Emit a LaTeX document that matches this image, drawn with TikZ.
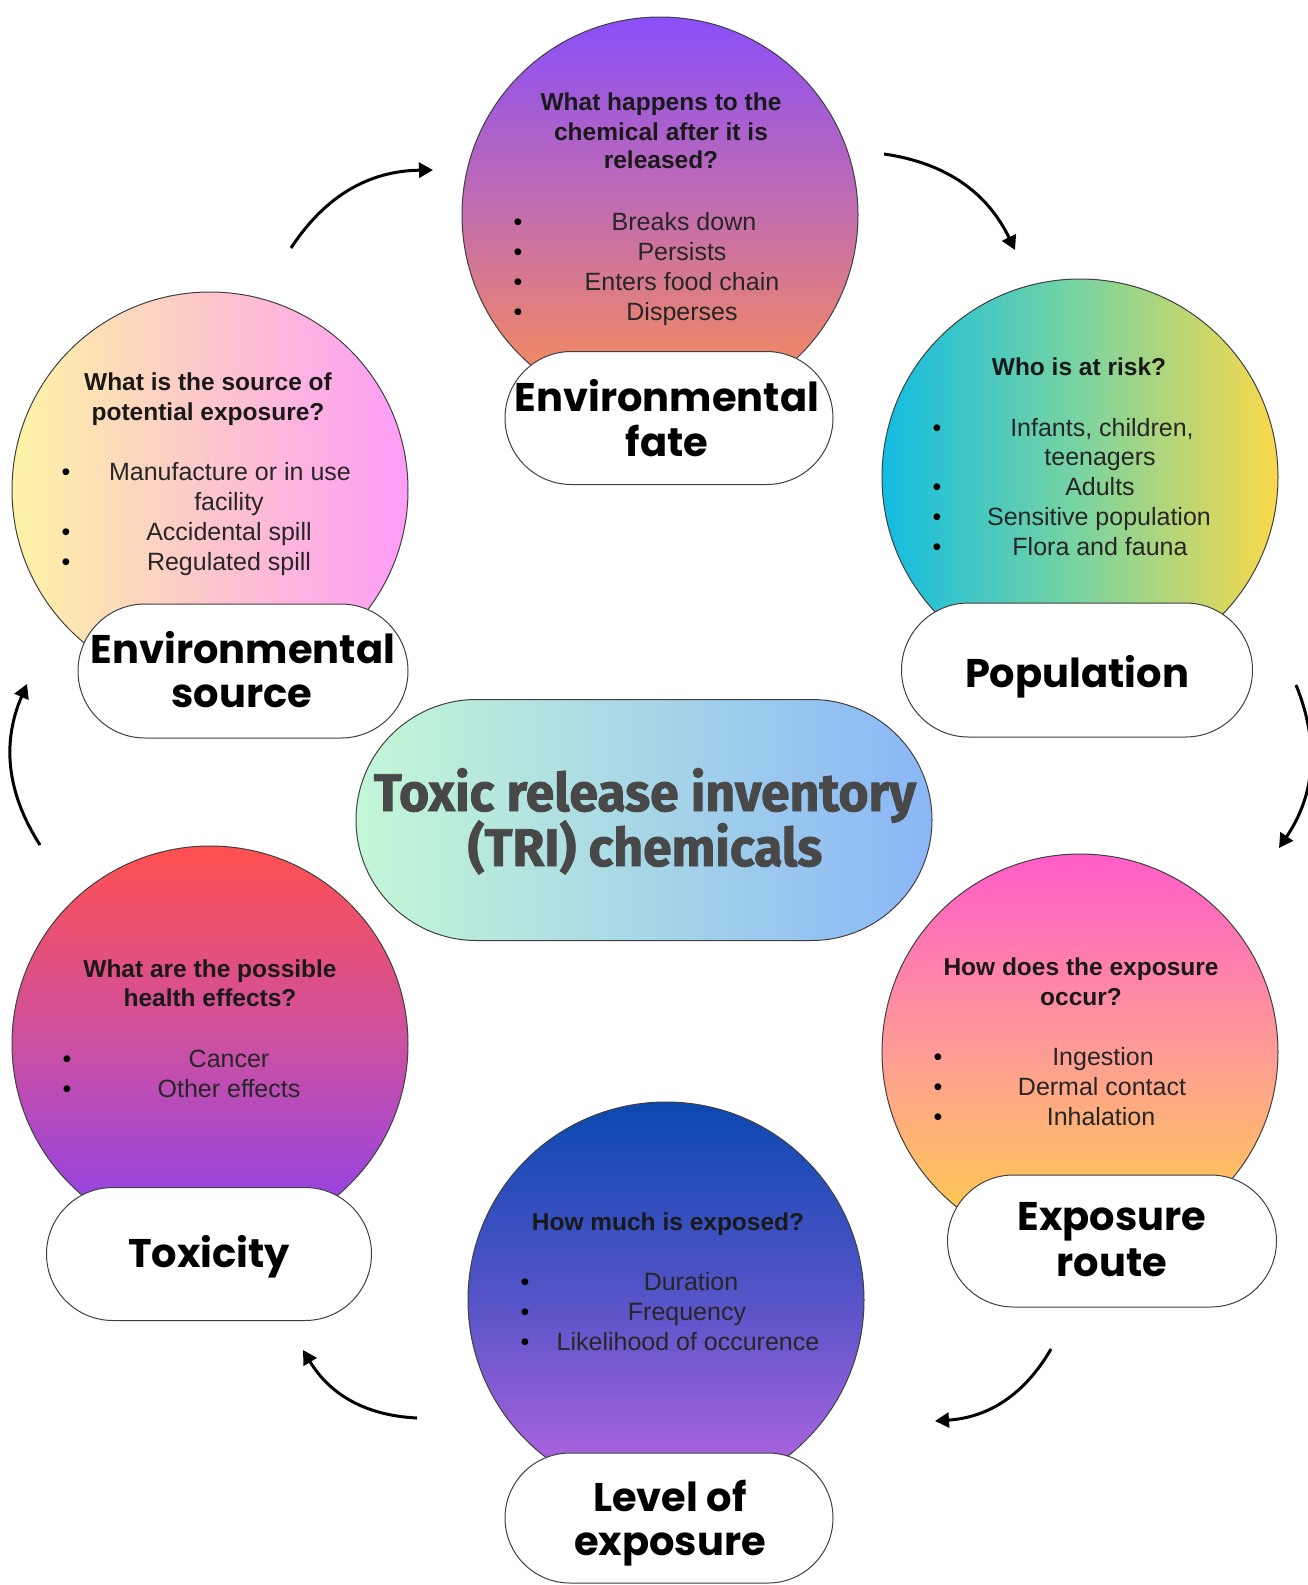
\documentclass[tikz,border=0pt]{standalone}
\usepackage{fontspec}
\setmainfont{Liberation Sans}
\newfontfamily\popfont{Poppins}
\newfontfamily\firafont{Fira Sans}[BoldFeatures={FakeBold=1.6}]
\usepackage{graphicx}
\usetikzlibrary{shapes.misc,arrows.meta}
\definecolor{fateT}{HTML}{8A4EF8}
\definecolor{fateM}{HTML}{C46EAC}
\definecolor{fateB}{HTML}{FF9050}
\definecolor{srcL}{HTML}{FDF3A5}
\definecolor{srcM}{HTML}{FCC6CC}
\definecolor{srcR}{HTML}{FF9CF8}
\definecolor{popL}{HTML}{12BCE2}
\definecolor{popM}{HTML}{7AD4A0}
\definecolor{popR}{HTML}{FAD84A}
\definecolor{rteT}{HTML}{FF5CC8}
\definecolor{rteM}{HTML}{FF9C96}
\definecolor{rteB}{HTML}{FFD244}
\definecolor{lvlT}{HTML}{0A48B0}
\definecolor{lvlM}{HTML}{5654C8}
\definecolor{lvlB}{HTML}{BC66E2}
\definecolor{toxT}{HTML}{FF5050}
\definecolor{toxM}{HTML}{CC50A2}
\definecolor{toxB}{HTML}{8840F2}
\definecolor{cenL}{HTML}{C4F7D6}
\definecolor{cenR}{HTML}{8AB6F7}
\definecolor{cenText}{HTML}{484848}
\begin{document}
\begin{tikzpicture}[x=1pt,y=-1pt,
  bubble/.style={circle, draw=black!75, line width=1pt, minimum size=396pt, inner sep=0pt},
  pill/.style={rounded rectangle, draw=black!75, line width=1pt, fill=white, inner sep=0pt},
  qtext/.style={font=\fontsize{24.5}{29}\selectfont\bfseries, anchor=base, text=black!90, inner sep=0pt},
  itext/.style={font=\fontsize{25}{30}\selectfont, anchor=base, text=black!85, inner sep=0pt},
  bul/.style={font=\fontsize{25}{30}\selectfont, anchor=base, inner sep=0pt},
  lab/.style={font=\popfont\bfseries\fontsize{40}{44}\selectfont, anchor=base, inner sep=0pt},
  ctext/.style={font=\firafont\bfseries\fontsize{53}{60}\selectfont, anchor=base, text=cenText, inner sep=0pt},
  cyc/.style={line width=3pt, -{Triangle[length=14pt,width=15pt]}, bend left=28}]
\useasboundingbox (0,0) rectangle (1308,1585);
\fill[white] (0,0) rectangle (1308,1585);

% bubbles
\node[bubble, top color=fateT, bottom color=fateB, middle color=fateM] (fate) at (660,215) {};
\node[bubble, left color=srcL, right color=srcR, middle color=srcM] (src) at (210,490) {};
\node[bubble, left color=popL, right color=popR, middle color=popM] (pop) at (1080,477) {};
\node[bubble, top color=rteT, bottom color=rteB, middle color=rteM] (rte) at (1080,1052) {};
\node[bubble, top color=lvlT, bottom color=lvlB, middle color=lvlM] (lvl) at (666,1300) {};
\node[bubble, top color=toxT, bottom color=toxB, middle color=toxM] (tox) at (210,1044) {};

% pills
\node[pill, minimum width=328pt, minimum height=133pt] (fatep) at (669,418) {};
\node[pill, minimum width=330pt, minimum height=134pt] (srcp) at (243,671) {};
\node[pill, minimum width=351pt, minimum height=134pt] (popp) at (1077,670) {};
\node[pill, minimum width=329pt, minimum height=132pt] (rtep) at (1112,1241) {};
\node[pill, minimum width=328pt, minimum height=130pt] (lvlp) at (669,1518) {};
\node[pill, minimum width=325pt, minimum height=133pt] (toxp) at (209,1254) {};
\node[pill, minimum width=576pt, minimum height=241pt, left color=cenL, right color=cenR] (cen) at (644,820) {};

% centre text
\node[ctext] (cen1) at (645,811) {\scalebox{0.975}[1]{Toxic release inventory}};
\node[ctext] (cen2) at (645,866) {\scalebox{0.975}[1]{(TRI) chemicals}};

% environmental fate
\node[qtext] (fq1) at (661,110) {What happens to the};
\node[qtext] (fq2) at (661,140) {chemical after it is};
\node[qtext] (fq3) at (661,168) {released?};
\node[bul] (fb1) at (518,230) {•};
\node[bul] (fb2) at (518,260) {•};
\node[bul] (fb3) at (518,290) {•};
\node[bul] (fb4) at (518,320) {•};
\node[itext] (fi1) at (684,230) {Breaks down};
\node[itext] (fi2) at (682,260) {Persists};
\node[itext] (fi3) at (682,290) {Enters food chain};
\node[itext] (fi4) at (682,320) {Disperses};
\node[lab] (fl1) at (667,411) {Environmental};
\node[lab] (fl2) at (667,456) {fate};

% environmental source
\node[qtext] (sq1) at (208,390) {What is the source of};
\node[qtext] (sq2) at (208,420) {potential exposure?};
\node[bul] (sb1) at (66,480) {•};
\node[bul] (sb2) at (66,540) {•};
\node[bul] (sb3) at (66,570) {•};
\node[itext] (si1) at (230,480) {Manufacture or in use};
\node[itext] (si2) at (229,510) {facility};
\node[itext] (si3) at (229,540) {Accidental spill};
\node[itext] (si4) at (229,570) {Regulated spill};
\node[lab] (sl1) at (243,663) {Environmental};
\node[lab] (sl2) at (242,707) {source};

% population
\node[qtext] (pq1) at (1079,375) {Who is at risk?};
\node[bul] (pb1) at (937,436) {•};
\node[bul] (pb2) at (937,495) {•};
\node[bul] (pb3) at (937,525) {•};
\node[bul] (pb4) at (937,555) {•};
\node[itext] (pi1) at (1102,436) {Infants, children,};
\node[itext] (pi2) at (1100,465) {teenagers};
\node[itext] (pi3) at (1100,495) {Adults};
\node[itext] (pi4) at (1099,525) {Sensitive population};
\node[itext] (pi5) at (1100,555) {Flora and fauna};
\node[lab] (pl1) at (1077,687) {Population};

% exposure route
\node[qtext] (rq1) at (1081,975) {How does the exposure};
\node[qtext] (rq2) at (1081,1005) {occur?};
\node[bul] (rb1) at (938,1065) {•};
\node[bul] (rb2) at (938,1095) {•};
\node[bul] (rb3) at (938,1125) {•};
\node[itext] (ri1) at (1103,1065) {Ingestion};
\node[itext] (ri2) at (1102,1095) {Dermal contact};
\node[itext] (ri3) at (1101,1125) {Inhalation};
\node[lab] (rl1) at (1112,1230) {Exposure};
\node[lab] (rl2) at (1112,1276) {route};

% level of exposure
\node[qtext] (lq1) at (668,1230) {How much is exposed?};
\node[bul] (lb1) at (525,1290) {•};
\node[bul] (lb2) at (525,1320) {•};
\node[bul] (lb3) at (525,1350) {•};
\node[itext] (li1) at (691,1290) {Duration};
\node[itext] (li2) at (687,1320) {Frequency};
\node[itext] (li3) at (688,1350) {Likelihood of occurence};
\node[lab] (ll1) at (670,1511) {Level of};
\node[lab] (ll2) at (670,1555) {exposure};

% toxicity
\node[qtext] (tq1) at (210,977) {What are the possible};
\node[qtext] (tq2) at (210,1006) {health effects?};
\node[bul] (tb1) at (67,1067) {•};
\node[bul] (tb2) at (67,1097) {•};
\node[itext] (ti1) at (229,1067) {Cancer};
\node[itext] (ti2) at (229,1097) {Other effects};
\node[lab] (tl1) at (209,1267) {Toxicity};

% cycle arrows
\coordinate (a1s) at (291,248);  \coordinate (a1e) at (433,170);
\coordinate (a2s) at (884,154);  \coordinate (a2e) at (1015,250);
\coordinate (a3s) at (1296,685); \coordinate (a3e) at (1279,848);
\coordinate (a4s) at (1051,1349); \coordinate (a4e) at (935,1421);
\coordinate (a5s) at (417,1418); \coordinate (a5e) at (303,1350);
\coordinate (a6s) at (40,845);   \coordinate (a6e) at (27,684);
\draw[cyc] (a1s) to (a1e);
\draw[cyc] (a2s) to (a2e);
\draw[cyc] (a3s) to (a3e);
\draw[cyc] (a4s) to (a4e);
\draw[cyc] (a5s) to (a5e);
\draw[cyc] (a6s) to (a6e);
\end{tikzpicture}
\end{document}
